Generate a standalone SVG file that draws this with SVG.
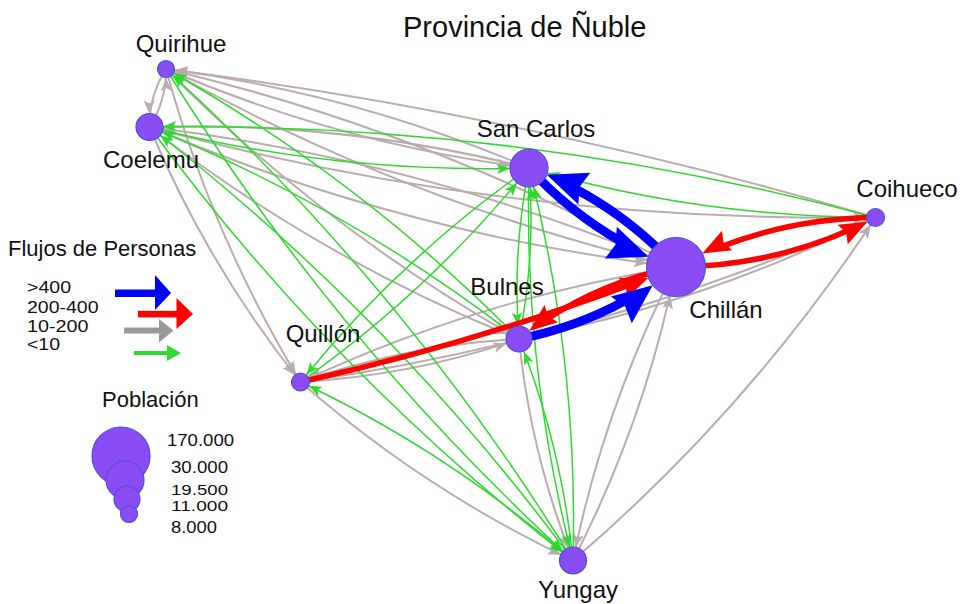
<svg xmlns="http://www.w3.org/2000/svg" width="962" height="604" viewBox="0 0 962 604">
<style>
.g{fill:none;stroke:#B8ACAC;stroke-width:2}
.n{fill:none;stroke:#2ED82E;stroke-width:1.5}
.b{fill:none;stroke:#0000FF;stroke-width:9}
.r{fill:none;stroke:#FF0000;stroke-width:5.5}
.node{fill:#8A4CF5;stroke:#5050D0;stroke-width:1.2}
.lbl{font-family:"Liberation Sans",Arial,sans-serif;font-size:24px;fill:#111;text-anchor:middle}
.leg{font-family:"Liberation Sans",Arial,sans-serif;font-size:16px;fill:#111}
.leg2{font-family:"Liberation Sans",Arial,sans-serif;font-size:14px;fill:#111}
</style>
<defs>
<marker id="gs" markerUnits="userSpaceOnUse" orient="auto" overflow="visible" markerWidth="10" markerHeight="10" refX="22" refY="0"><polygon points="0,-5.5 13,0 0,5.5 3,0" fill="#B8ACAC"/></marker>
<marker id="gm" markerUnits="userSpaceOnUse" orient="auto" overflow="visible" markerWidth="10" markerHeight="10" refX="26.5" refY="0"><polygon points="0,-5.5 13,0 0,5.5 3,0" fill="#B8ACAC"/></marker>
<marker id="gl" markerUnits="userSpaceOnUse" orient="auto" overflow="visible" markerWidth="10" markerHeight="10" refX="32" refY="0"><polygon points="0,-5.5 13,0 0,5.5 3,0" fill="#B8ACAC"/></marker>
<marker id="gx" markerUnits="userSpaceOnUse" orient="auto" overflow="visible" markerWidth="10" markerHeight="10" refX="42.5" refY="0"><polygon points="0,-5.5 13,0 0,5.5 3,0" fill="#B8ACAC"/></marker>
<marker id="ns" markerUnits="userSpaceOnUse" orient="auto" overflow="visible" markerWidth="10" markerHeight="10" refX="22" refY="0"><polygon points="0,-5 13,0 0,5 3,0" fill="#2ED82E"/></marker>
<marker id="nm" markerUnits="userSpaceOnUse" orient="auto" overflow="visible" markerWidth="10" markerHeight="10" refX="26.5" refY="0"><polygon points="0,-5 13,0 0,5 3,0" fill="#2ED82E"/></marker>
<marker id="nl" markerUnits="userSpaceOnUse" orient="auto" overflow="visible" markerWidth="10" markerHeight="10" refX="32" refY="0"><polygon points="0,-5 13,0 0,5 3,0" fill="#2ED82E"/></marker>
<marker id="bx" markerUnits="userSpaceOnUse" orient="auto" overflow="visible" markerWidth="10" markerHeight="10" refX="69.5" refY="0"><polygon points="0,-17 40,0 0,17 5,0" fill="#0000FF"/></marker>
<marker id="bl" markerUnits="userSpaceOnUse" orient="auto" overflow="visible" markerWidth="10" markerHeight="10" refX="59" refY="0"><polygon points="0,-17 40,0 0,17 5,0" fill="#0000FF"/></marker>
<marker id="rx" markerUnits="userSpaceOnUse" orient="auto" overflow="visible" markerWidth="10" markerHeight="10" refX="57.5" refY="0"><polygon points="0,-11 28,0 0,11 4,0" fill="#FF0000"/></marker>
<marker id="rm" markerUnits="userSpaceOnUse" orient="auto" overflow="visible" markerWidth="10" markerHeight="10" refX="41" refY="0"><polygon points="0,-11 28,0 0,11 4,0" fill="#FF0000"/></marker>
<marker id="rs" markerUnits="userSpaceOnUse" orient="auto" overflow="visible" markerWidth="10" markerHeight="10" refX="37" refY="0"><polygon points="0,-11 28,0 0,11 4,0" fill="#FF0000"/></marker>
</defs>
<rect width="962" height="604" fill="#fff"/>
<text x="403" y="37" style="font-family:'Liberation Sans',Arial,sans-serif;font-size:29px;fill:#111">Provincia de Ñuble</text>

<g id="connectors">
<path class="g" d="M166,69 Q149.05,95.5 149.5,127" marker-end="url(#gm)"/>
<path class="g" d="M149.5,127 Q166.45,100.5 166,69" marker-end="url(#gs)"/>
<path class="g" d="M166,69 Q340.6,143.9 529,168" marker-end="url(#gl)"/>
<path class="g" d="M529,168 Q354.4,93.1 166,69" marker-end="url(#gs)"/>
<path class="g" d="M166,69 Q407.1,203.7 676,267" marker-end="url(#gx)"/>
<path class="g" d="M676,267 Q434.9,132.3 166,69" marker-end="url(#gs)"/>
<path class="g" d="M875.5,217.5 Q526.7,114.8 166,69" marker-end="url(#gs)"/>
<path class="g" d="M166,69 Q323.6,228.7 519,339" marker-end="url(#gm)"/>
<path class="g" d="M166,69 Q211.3,234.9 300.5,382" marker-end="url(#gs)"/>
<path class="g" d="M529,168 Q342.1,120.9 149.5,127" marker-end="url(#gm)"/>
<path class="g" d="M149.5,127 Q403,233.9 676,267" marker-end="url(#gx)"/>
<path class="g" d="M676,267 Q422.6,160.1 149.5,127" marker-end="url(#gm)"/>
<path class="g" d="M149.5,127 Q506.2,223.1 875.5,217.5" marker-end="url(#gs)"/>
<path class="g" d="M149.5,127 Q319.4,258.9 519,339" marker-end="url(#gm)"/>
<path class="g" d="M149.5,127 Q207.1,265.1 300.5,382" marker-end="url(#gs)"/>
<path class="g" d="M676,267 Q480.2,298.2 300.5,382" marker-end="url(#gs)"/>
<path class="g" d="M676,267 Q604,406.5 573,560.5" marker-end="url(#gm)"/>
<path class="g" d="M573,560.5 Q645,421 676,267" marker-end="url(#gx)"/>
<path class="g" d="M519,339 Q705.8,303.2 875.5,217.5" marker-end="url(#gs)"/>
<path class="g" d="M300.5,382 Q599.5,340 875.5,217.5" marker-end="url(#gs)"/>
<path class="g" d="M573,560.5 Q748.3,410.2 875.5,217.5" marker-end="url(#gs)"/>
<path class="g" d="M519,339 Q406.7,345.2 300.5,382" marker-end="url(#gs)"/>
<path class="g" d="M300.5,382 Q412.8,375.8 519,339" marker-end="url(#gm)"/>
<path class="g" d="M519,339 Q530.5,453.5 573,560.5" marker-end="url(#gm)"/>
<path class="g" d="M300.5,382 Q424.3,490.3 573,560.5" marker-end="url(#gm)"/>

<path class="n" d="M519,339 Q361.4,179.3 166,69" marker-end="url(#ns)"/>
<path class="n" d="M166,69 Q335.1,343.2 573,560.5" marker-end="url(#nm)"/>
<path class="n" d="M573,560.5 Q403.9,286.3 166,69" marker-end="url(#ns)"/>
<path class="n" d="M149.5,127 Q336.4,174.1 529,168" marker-end="url(#nl)"/>
<path class="n" d="M875.5,217.5 Q518.8,121.4 149.5,127" marker-end="url(#nm)"/>
<path class="n" d="M519,339 Q349.1,207.1 149.5,127" marker-end="url(#nm)"/>
<path class="n" d="M149.5,127 Q330.9,373.4 573,560.5" marker-end="url(#nm)"/>
<path class="n" d="M573,560.5 Q391.6,314.1 149.5,127" marker-end="url(#nm)"/>
<path class="n" d="M875.5,217.5 Q698.8,217 529,168" marker-end="url(#nl)"/>
<path class="n" d="M529,168 Q512,252.8 519,339" marker-end="url(#nm)"/>
<path class="n" d="M519,339 Q536,254.2 529,168" marker-end="url(#nl)"/>
<path class="n" d="M529,168 Q399.8,259 300.5,382" marker-end="url(#ns)"/>
<path class="n" d="M300.5,382 Q429.7,291 529,168" marker-end="url(#nl)"/>
<path class="n" d="M529,168 Q523.5,367.3 573,560.5" marker-end="url(#nm)"/>
<path class="n" d="M573,560.5 Q578.5,361.2 529,168" marker-end="url(#nl)"/>
<path class="n" d="M573,560.5 Q561.5,446 519,339" marker-end="url(#nm)"/>
<path class="n" d="M573,560.5 Q449.2,452.2 300.5,382" marker-end="url(#ns)"/>

<path class="r" d="M300.5,382 Q492.9,339.5 676,267" stroke-dasharray="345.6 2000" marker-end="url(#rx)"/>
<path class="r" d="M875.5,217.5 Q769.8,218.3 676,267" stroke-dasharray="160 2000" marker-end="url(#rx)"/>
<path class="r" d="M676,267 Q781.7,266.2 875.5,217.5" stroke-dasharray="180.5 2000" marker-end="url(#rs)"/>
<path class="r" d="M676,267 Q588.9,284.2 519,339" stroke-dasharray="143.4 2000" marker-end="url(#rm)"/>
<path class="b" d="M529,168 Q590.6,235.1 676,267" stroke-dasharray="119.4 2000" marker-end="url(#bx)"/>
<path class="b" d="M676,267 Q614.4,199.9 529,168" stroke-dasharray="129.9 2000" marker-end="url(#bl)"/>
<path class="b" d="M519,339 Q606.1,321.8 676,267" stroke-dasharray="114.9 2000" marker-end="url(#bx)"/>
</g>

<g id="quirihue"><circle class="node" cx="166" cy="69" r="8.5"/><text class="lbl" x="181" y="52">Quirihue</text></g>
<g id="coelemu"><circle class="node" cx="149.5" cy="127" r="13.5"/><text class="lbl" x="151" y="168">Coelemu</text></g>
<g id="san-carlos"><circle class="node" cx="529" cy="168" r="19"/><text class="lbl" x="536" y="137">San Carlos</text></g>
<g id="chillan"><circle class="node" cx="676" cy="267" r="29.5"/><text class="lbl" x="726" y="318">Chillán</text></g>
<g id="coihueco"><circle class="node" cx="875.5" cy="217.5" r="9"/><text class="lbl" x="907" y="197">Coihueco</text></g>
<g id="bulnes"><circle class="node" cx="519" cy="339" r="13"/><text class="lbl" x="507" y="295">Bulnes</text></g>
<g id="quillon"><circle class="node" cx="300.5" cy="382" r="9"/><text class="lbl" x="323" y="342">Quillón</text></g>
<g id="yungay"><circle class="node" cx="573" cy="560.5" r="13.5"/><text class="lbl" x="578" y="598">Yungay</text></g>

<g id="legend-flujos">
<text x="8" y="256" style="font-family:'Liberation Sans',Arial,sans-serif;font-size:22px;fill:#111">Flujos de Personas</text>
<text class="leg" x="27" y="293" textLength="44" lengthAdjust="spacingAndGlyphs">&gt;400</text>
<text class="leg" x="27" y="312.5" textLength="71.5" lengthAdjust="spacingAndGlyphs">200-400</text>
<text class="leg" x="27" y="331.5" textLength="61.5" lengthAdjust="spacingAndGlyphs">10-200</text>
<text class="leg" x="27" y="350" textLength="33" lengthAdjust="spacingAndGlyphs">&lt;10</text>
<rect x="115" y="289.5" width="42" height="7.5" fill="#0000FF"/>
<polygon points="155,275 171,293 155,310" fill="#0000FF"/>
<rect x="138" y="310.8" width="42" height="6.6" fill="#FF0000"/>
<polygon points="176.5,298 193,314 176.5,329" fill="#FF0000"/>
<rect x="124" y="327.5" width="38" height="6" fill="#999999"/>
<polygon points="159,319 173.5,330.5 159,342.5" fill="#999999"/>
<rect x="134" y="351" width="36" height="4" fill="#2ED82E"/>
<polygon points="167,345 181,353 167,361" fill="#2ED82E"/>
</g>

<g id="legend-poblacion">
<text x="102" y="407" style="font-family:'Liberation Sans',Arial,sans-serif;font-size:22px;fill:#111">Población</text>
<circle class="node" cx="121" cy="456" r="29"/>
<circle class="node" cx="125" cy="480" r="19"/>
<circle class="node" cx="127" cy="499" r="13"/>
<circle class="node" cx="129" cy="514" r="8.5"/>
<text class="leg" x="167" y="446" textLength="67" lengthAdjust="spacingAndGlyphs">170.000</text>
<text class="leg" x="171" y="473" textLength="57" lengthAdjust="spacingAndGlyphs">30.000</text>
<text class="leg2" x="171" y="495" textLength="57" lengthAdjust="spacingAndGlyphs">19.500</text>
<text class="leg2" x="171" y="511" textLength="57" lengthAdjust="spacingAndGlyphs">11.000</text>
<text class="leg" x="171" y="533" textLength="46" lengthAdjust="spacingAndGlyphs">8.000</text>
</g>
</svg>
